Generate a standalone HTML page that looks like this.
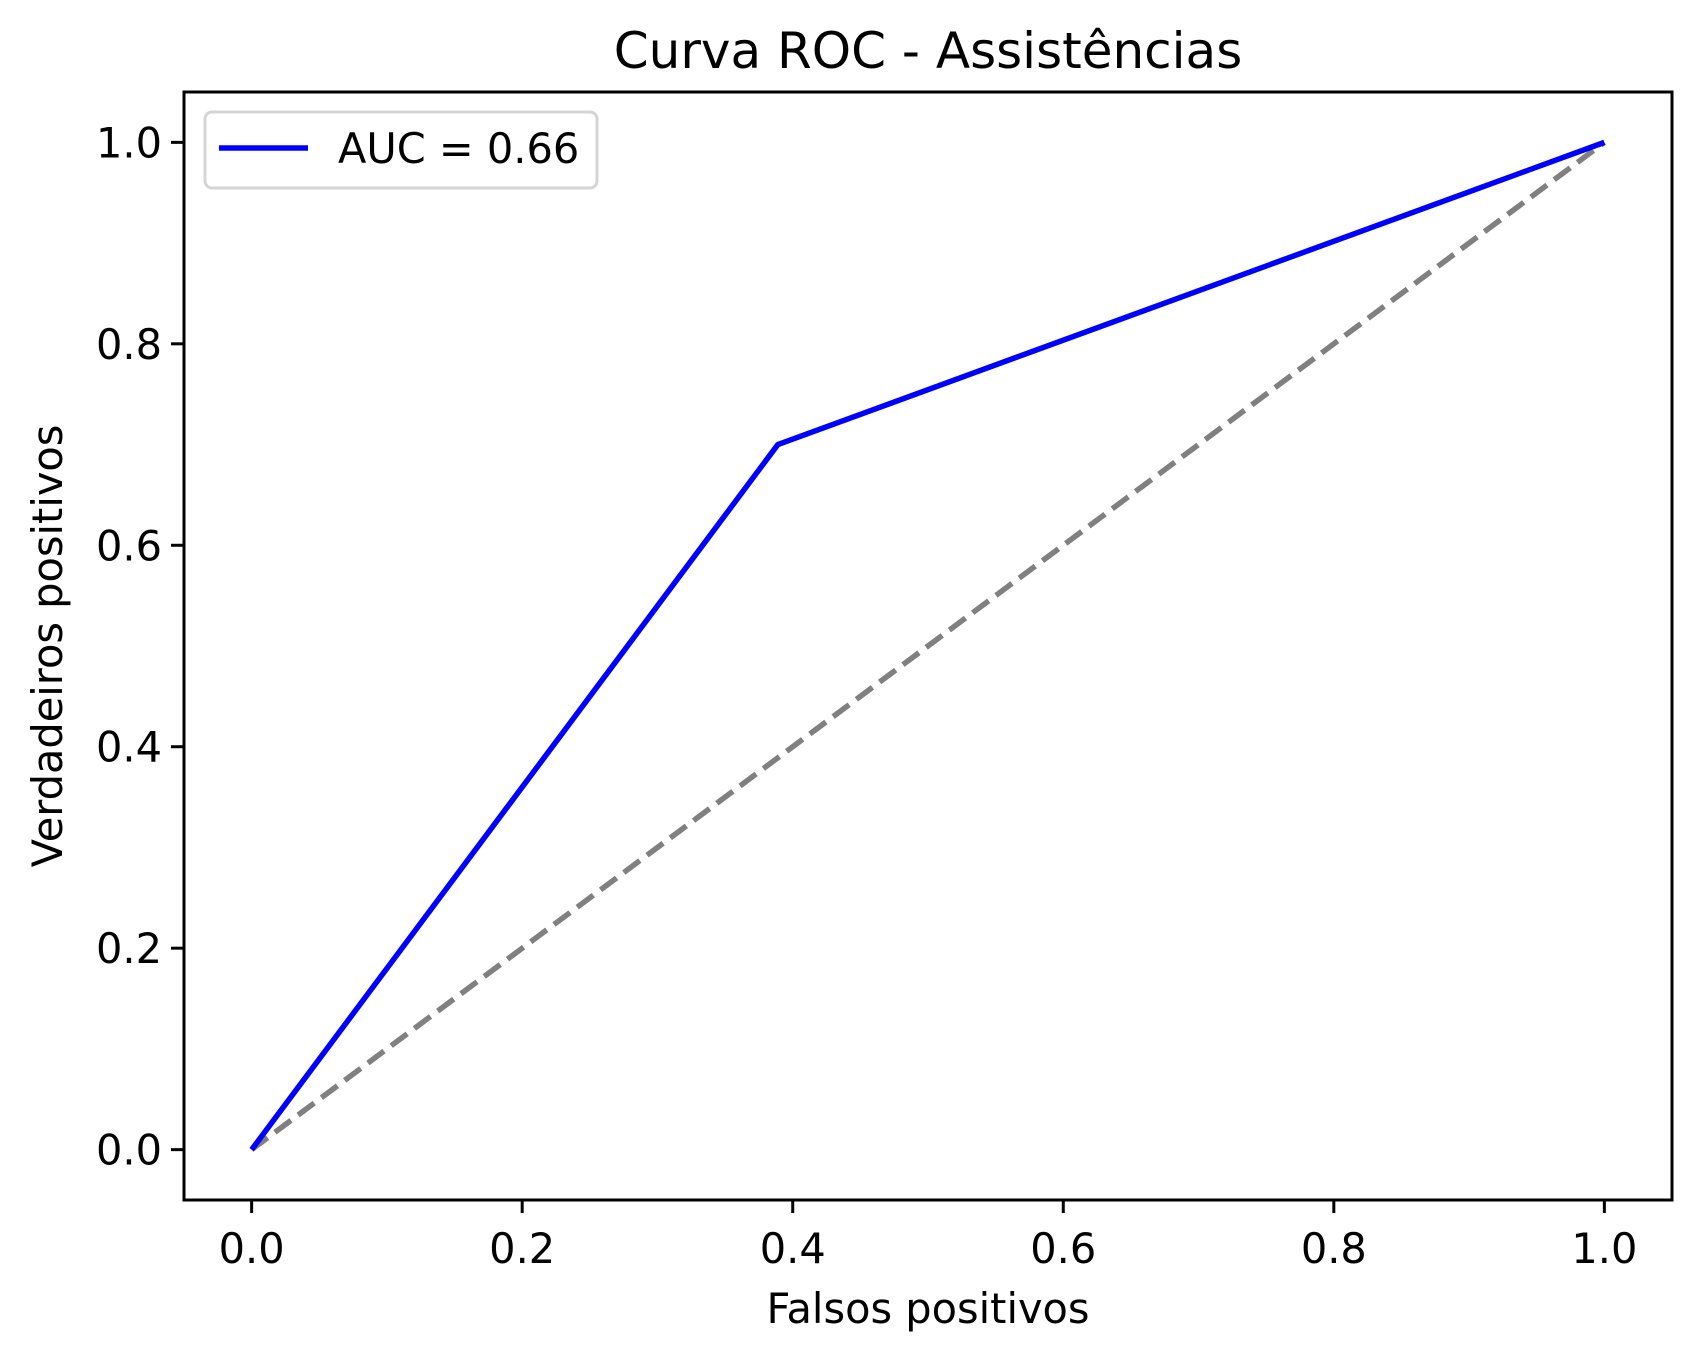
<!DOCTYPE html>
<html><head><meta charset="utf-8"><style>
html,body{margin:0;padding:0;background:#fff}
svg{display:block}
text{font-family:"DejaVu Sans","Liberation Sans",sans-serif;fill:#000}
</style></head><body>
<svg id="chart" width="1702" height="1361" viewBox="0 0 1702 1361" xmlns="http://www.w3.org/2000/svg">
<rect width="1702" height="1361" fill="#fff"/>
<text x="928" y="68" font-size="50" text-anchor="middle">Curva ROC - Assistências</text>
<g id="ticks"></g>
<g id="plot"></g>
<rect x="184" y="92" width="1488" height="1108" fill="none" stroke="#000" stroke-width="3"/>
<text x="928" y="1323" font-size="41.5" text-anchor="middle">Falsos positivos</text>
<text transform="translate(62,646) rotate(-90)" font-size="41.5" text-anchor="middle">Verdadeiros positivos</text>
<g>
<rect x="205" y="112" width="392" height="76" rx="7" fill="#fff" fill-opacity="0.8" stroke="#d5d5d5" stroke-width="3"/>
<line x1="219" y1="148" x2="308" y2="148" stroke="#0000ff" stroke-width="5.5"/>
<text x="338" y="163" font-size="41.5">AUC = 0.66</text>
</g>
</svg>
<script>
const fpr = [0, 0.389, 1];
const tpr = [0, 0.70, 1];
const chanceX = [0, 1];
const chanceY = [0, 1];
const xTicks = [0, 0.2, 0.4, 0.6, 0.8, 1.0];
const yTicks = [0, 0.2, 0.4, 0.6, 0.8, 1.0];
const xTickLabels = ["0.0","0.2","0.4","0.6","0.8","1.0"];
const yTickLabels = ["0.0","0.2","0.4","0.6","0.8","1.0"];

const NS = "http://www.w3.org/2000/svg";
const L = 184, R = 1672, T = 92, B = 1200;
const xMin = -0.05, xMax = 1.05, yMin = -0.05, yMax = 1.05;
function sx(v){ return L + (v - xMin) / (xMax - xMin) * (R - L); }
function sy(v){ return B - (v - yMin) / (yMax - yMin) * (B - T); }
function mk(tag, attrs){ const e = document.createElementNS(NS, tag); for (const k in attrs) e.setAttribute(k, attrs[k]); return e; }

const ticks = document.getElementById('ticks');
xTicks.forEach((v, i) => {
  const ln = mk('line', {x1: sx(v), x2: sx(v), y1: B, y2: B + 13, stroke: '#000', 'stroke-width': 3});
  
  
  ticks.appendChild(ln);
  const t = mk('text', {x: sx(v), y: 1263, 'font-size': 41.5, 'text-anchor': 'middle'});
  
  
  t.textContent = xTickLabels[i];
  ticks.appendChild(t);
});
yTicks.forEach((v, i) => {
  const ln = mk('line', {x1: L - 13, x2: L, y1: sy(v), y2: sy(v), stroke: '#000', 'stroke-width': 3});
  
  
  ticks.appendChild(ln);
  const t = mk('text', {x: L - 22, y: sy(v) + 15, 'font-size': 41.5, 'text-anchor': 'end'});
  
  
  t.textContent = yTickLabels[i];
  ticks.appendChild(t);
});

const plot = document.getElementById('plot');
const chance = mk('polyline', {points: chanceX.map((x, i) => sx(x) + ',' + sy(chanceY[i])).join(' '), fill: 'none', stroke: '#808080', 'stroke-width': 5.5, 'stroke-dasharray': '20 9'});


plot.appendChild(chance);
const roc = mk('polyline', {points: fpr.map((x, i) => sx(x) + ',' + sy(tpr[i])).join(' '), fill: 'none', stroke: '#0000ff', 'stroke-width': 5.5, 'stroke-linejoin': 'round'});


plot.appendChild(roc);
</script>
</body></html>
